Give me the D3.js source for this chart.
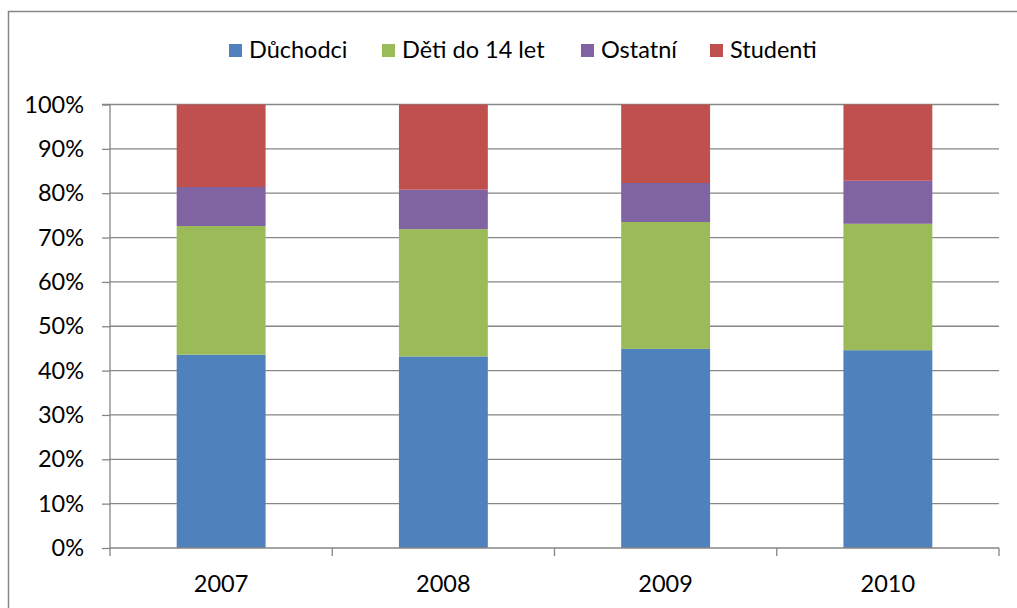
<!DOCTYPE html>
<html>
<head>
<meta charset="utf-8">
<script src="https://cdn.jsdelivr.net/npm/d3@7/dist/d3.min.js"></script>
<style>
  body { margin: 0; background: #fff; }
  svg { display: block; }
  text { font-family: Lato, "Open Sans", sans-serif; fill: #000; }
</style>
</head>
<body>
<svg id="chart" width="1017" height="608"></svg>
<script>
const categories = ["2007", "2008", "2009", "2010"];
const seriesNames = ["Důchodci", "Děti do 14 let", "Ostatní", "Studenti"];
const duchodci = [43.6, 43.2, 44.9, 44.6];
const deti = [29.0, 28.7, 28.6, 28.5];
const ostatni = [8.8, 8.9, 8.8, 9.7];
const studenti = [18.6, 19.2, 17.7, 17.2];
const colors = ["#4F81BD", "#9BBB59", "#8064A2", "#C0504D"];
const yTicks = [0, 0.1, 0.2, 0.3, 0.4, 0.5, 0.6, 0.7, 0.8, 0.9, 1.0];

const seriesValues = [duchodci, deti, ostatni, studenti];
const rows = categories.map((c, i) => {
  const r = { cat: c };
  seriesNames.forEach((s, j) => r[s] = seriesValues[j][i]);
  return r;
});
const stacked = d3.stack().keys(seriesNames).offset(d3.stackOffsetExpand)(rows);

const svg = d3.select("#chart");
const m = { left: 110, right: 999, top: 104.5, bottom: 548 };
const FS = "23.5px";

// outer frame
svg.append("rect").attr("x", 8.5).attr("y", 11.5).attr("width", 1020).attr("height", 610)
  .attr("fill", "none").attr("stroke", "#868686").attr("stroke-width", 1.5);

const x = d3.scaleBand().domain(categories).range([m.left, m.right]).paddingInner(0.6).paddingOuter(0.3);
const y = d3.scaleLinear().domain([0, 1]).range([m.bottom, m.top]);

// gridlines
svg.append("g").selectAll("line").data(yTicks.slice(1)).join("line")
  .attr("x1", m.left).attr("x2", m.right)
  .attr("y1", d => y(d)).attr("y2", d => y(d))
  .attr("stroke", "#868686").attr("stroke-width", 1.3);

// bars
svg.append("g").selectAll("g").data(stacked).join("g")
  .attr("fill", (d, i) => colors[i])
  .selectAll("rect").data(d => d).join("rect")
  .attr("x", d => x(d.data.cat))
  .attr("width", x.bandwidth())
  .attr("y", d => y(d[1]))
  .attr("height", d => y(d[0]) - y(d[1]));

// y axis
const yAxis = d3.axisLeft(y).tickValues(yTicks).tickFormat(d3.format(".0%")).tickSize(8).tickPadding(18);
const gy = svg.append("g").attr("transform", `translate(${m.left},0)`).call(yAxis);
gy.select(".domain").attr("stroke", "#868686").attr("stroke-width", 1.3).attr("d", `M-8,${m.top}H0V${m.bottom}`);
gy.selectAll(".tick line").attr("stroke", "#868686").attr("stroke-width", 1.3);
gy.selectAll(".tick text").style("font-size", FS).attr("fill", "#000");

// x axis
const xEdges = d3.scaleLinear().domain([0, categories.length]).range([m.left, m.right]);
const gx = svg.append("g").attr("transform", `translate(0,${m.bottom})`);
gx.append("line").attr("x1", m.left).attr("x2", m.right).attr("stroke", "#868686").attr("stroke-width", 1.3);
gx.selectAll("line.t").data(d3.range(categories.length + 1)).join("line").attr("class", "t")
  .attr("x1", d => xEdges(d)).attr("x2", d => xEdges(d)).attr("y1", 0).attr("y2", 8)
  .attr("stroke", "#868686").attr("stroke-width", 1.3);
gx.selectAll("text").data(categories).join("text")
  .attr("x", d => x(d) + x.bandwidth() / 2).attr("y", 44)
  .attr("text-anchor", "middle").style("font-size", FS).text(d => d);

// legend
const legendX = [229, 382, 581, 710];
const lg = svg.append("g").selectAll("g").data(seriesNames).join("g")
  .attr("transform", (d, i) => `translate(${legendX[i]},44)`);
lg.append("rect").attr("width", 13).attr("height", 13).attr("fill", (d, i) => colors[i]);
lg.append("text").attr("x", 20).attr("y", 13.5).style("font-size", FS).text(d => d);
</script>
</body>
</html>
